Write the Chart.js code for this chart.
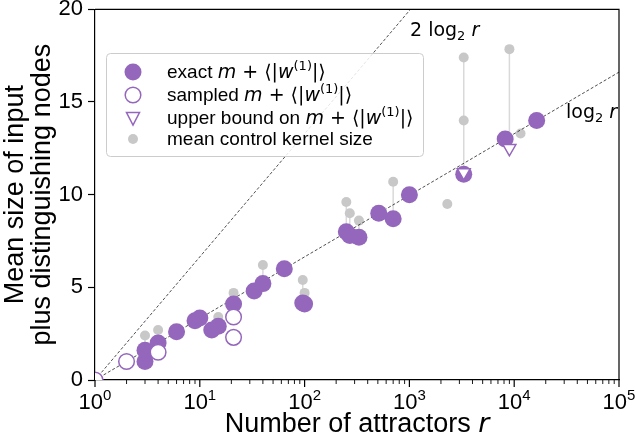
<!DOCTYPE html>
<html>
<head>
<meta charset="utf-8">
<script src="https://cdn.jsdelivr.net/npm/chart.js@4"></script>
<style>
  html, body { margin: 0; padding: 0; background: #fff; }
</style>
</head>
<body>
<canvas id="myChart" width="635" height="439"></canvas>
<script>
// exact m + <|w(1)|>  (filled circles); ctrl = mean control kernel size or null
const exactR    = [3, 3, 4, 6, 9, 10, 13, 15, 21, 33, 40, 64, 96, 100, 250, 270, 330, 510, 700, 1000, 3300, 8200, 16384];
const exactY    = [1.0, 1.6, 2.0, 2.6, 3.2, 3.35, 2.7, 2.9, 4.1, 4.8, 5.2, 6.0, 4.15, 4.1, 8.0, 7.8, 7.7, 9.0, 8.7, 10.0, 11.1, 13.0, 14.0];
const exactCtrl = [null, 2.4, 2.7, null, null, null, null, 3.4, 4.7, null, 6.2, null, 5.4, 4.7, 9.6, 9.0, 8.6, null, 10.7, null, 14.0, null, null];

// sampled m + <|w(1)|>  (open circles)
const sampledR = [1, 2, 4, 21, 21];
const sampledY = [0, 1.0, 1.5, 3.4, 2.3];

// upper bound on m + <|w(1)|>  (open triangles)
const boundR    = [3300, 9000];
const boundY    = [11.2, 12.5];
const boundCtrl = [17.4, 17.85];

// control kernel sizes without a visible partner mark
const otherCtrlR = [2300, 11500];
const otherCtrlY = [9.5, 13.3];

// reference lines
const refR = [1, 100000];
const purple = "#9467bd";
const grey = "#c8c8c8";
const fontFam = "'Liberation Sans', Arial, sans-serif";
const mathFam = "'DejaVu Sans', sans-serif";

const pts = (xs, ys) => xs.map((x, i) => ({ x: x, y: ys[i] }));

const ctrlPts = [];
const segPts = [];
function addCtrl(xs, ys, cs) {
  xs.forEach((x, i) => {
    if (cs[i] === null) return;
    ctrlPts.push({ x: x, y: cs[i] });
    segPts.push({ x: x, y: cs[i] }, { x: x, y: ys[i] }, { x: x, y: null });
  });
}
addCtrl(exactR, exactY, exactCtrl);
addCtrl(boundR, boundY, boundCtrl);
otherCtrlR.forEach((x, i) => ctrlPts.push({ x: x, y: otherCtrlY[i] }));

// rich text: parts = [[text, style]]
// style: "" text font, "m" math upright, "i" math italic, "sup"/"sub" small math
function partFont(s, size) {
  if (s === "i") return "oblique " + size + "px " + mathFam;
  if (s === "m") return size + "px " + mathFam;
  if (s === "sup" || s === "sub") return Math.round(size * 0.7) + "px " + mathFam;
  if (s === "tsup") return Math.round(size * 0.7) + "px " + fontFam;
  return size + "px " + fontFam;
}
function richWidth(ctx, parts, size) {
  let w = 0;
  parts.forEach(([t, s]) => {
    ctx.font = partFont(s, size);
    w += ctx.measureText(t).width;
  });
  return w;
}
function drawRich(ctx, x, y, parts, size) {
  ctx.textAlign = "left";
  ctx.textBaseline = "alphabetic";
  parts.forEach(([t, s]) => {
    ctx.font = partFont(s, size);
    let dy = 0;
    if (s === "sup" || s === "tsup") dy = -size * 0.42;
    if (s === "sub") dy = size * 0.22;
    ctx.fillText(t, x, y + dy);
    x += ctx.measureText(t).width;
  });
}

const extras = {
  id: "extras",
  afterDraw(chart) {
    const ctx = chart.ctx;
    const xs = chart.scales.x;
    const area = chart.chartArea;
    ctx.save();
    ctx.fillStyle = "#000";
    ctx.strokeStyle = "#000";

    // top and right spines
    ctx.lineWidth = 1.2;
    ctx.beginPath();
    ctx.moveTo(area.left, area.top);
    ctx.lineTo(area.right, area.top);
    ctx.lineTo(area.right, area.bottom);
    ctx.stroke();

    // x ticks (major + minor) and labels 10^k
    for (let k = 0; k <= 5; k++) {
      for (let m = 1; m <= 9; m++) {
        const v = m * Math.pow(10, k);
        if (v > 100000) break;
        const px = xs.getPixelForValue(v);
        ctx.lineWidth = m === 1 ? 1.2 : 0.9;
        ctx.beginPath();
        ctx.moveTo(px, area.bottom);
        ctx.lineTo(px, area.bottom + (m === 1 ? 7 : 4));
        ctx.stroke();
        if (m === 1) {
          const parts = [["10", ""], [String(k), "tsup"]];
          const w = richWidth(ctx, parts, 22);
          drawRich(ctx, px - w / 2, area.bottom + 29, parts, 22);
        }
      }
    }

    // x title
    const xt = [["Number of attractors ", ""], ["r", "i"]];
    const xtw = richWidth(ctx, xt, 27);
    drawRich(ctx, (area.left + area.right) / 2 - xtw / 2, 432, xt, 27);

    // reference line labels
    ctx.fillStyle = "#000";
    drawRich(ctx, 410, 36, [["2 log", "m"], ["2", "sub"], [" ", "m"], ["r", "i"]], 19);
    drawRich(ctx, 566, 118, [["log", "m"], ["2", "sub"], [" ", "m"], ["r", "i"]], 19);

    // legend
    const lx = 106, ly = 53, lw = 317, lh = 103;
    ctx.fillStyle = "rgba(255,255,255,0.85)";
    ctx.strokeStyle = "#cccccc";
    ctx.lineWidth = 1;
    ctx.beginPath();
    ctx.roundRect(lx + 0.5, ly + 0.5, lw, lh, 4);
    ctx.fill();
    ctx.stroke();

    const mx = 133;
    const rows = [72, 95, 118, 139];
    // filled circle
    ctx.fillStyle = purple;
    ctx.beginPath();
    ctx.arc(mx, rows[0], 8.5, 0, Math.PI * 2);
    ctx.fill();
    // open circle
    ctx.fillStyle = "#fff";
    ctx.strokeStyle = purple;
    ctx.lineWidth = 1.5;
    ctx.beginPath();
    ctx.arc(mx, rows[1], 7.8, 0, Math.PI * 2);
    ctx.fill();
    ctx.stroke();
    // down triangle
    ctx.beginPath();
    ctx.moveTo(mx - 6.5, rows[2] - 5.5);
    ctx.lineTo(mx + 6.5, rows[2] - 5.5);
    ctx.lineTo(mx, rows[2] + 7);
    ctx.closePath();
    ctx.fill();
    ctx.stroke();
    // grey dot
    ctx.fillStyle = grey;
    ctx.beginPath();
    ctx.arc(mx, rows[3], 5, 0, Math.PI * 2);
    ctx.fill();

    ctx.fillStyle = "#000";
    const tail = [["m", "i"], [" + \u27E8|", "m"], ["w", "i"], ["(1)", "sup"], ["|\u27E9", "m"]];
    const tx = 167, fs = 19;
    drawRich(ctx, tx, rows[0] + 6, [["exact ", ""]].concat(tail), fs);
    drawRich(ctx, tx, rows[1] + 6, [["sampled ", ""]].concat(tail), fs);
    drawRich(ctx, tx, rows[2] + 6, [["upper bound on ", ""]].concat(tail), fs);
    drawRich(ctx, tx, rows[3] + 6, [["mean control kernel size", ""]], fs);

    ctx.restore();
  }
};

const myChart = document.getElementById("myChart").getContext("2d");

const attractorChart = new Chart(myChart, {
  type: "scatter",
  data: {
    datasets: [
      {
        label: "links",
        data: segPts,
        showLine: true,
        spanGaps: false,
        borderColor: "#d9d9d9",
        borderWidth: 1.5,
        pointRadius: 0,
        order: 12,
      },
      {
        label: "mean control kernel size",
        data: ctrlPts,
        backgroundColor: grey,
        borderWidth: 0,
        pointRadius: 5,
        order: 11,
      },
      {
        label: "log2 r",
        data: refR.map((r) => ({ x: r, y: Math.log2(r) })),
        showLine: true,
        borderColor: "#222",
        borderWidth: 0.8,
        borderDash: [3, 2],
        pointRadius: 0,
        order: 10,
      },
      {
        label: "2 log2 r",
        data: refR.map((r) => ({ x: r, y: 2 * Math.log2(r) })),
        showLine: true,
        borderColor: "#222",
        borderWidth: 0.8,
        borderDash: [3, 2],
        pointRadius: 0,
        order: 10,
      },
      {
        label: "exact",
        data: pts(exactR, exactY),
        backgroundColor: purple,
        borderWidth: 0,
        pointRadius: 8.5,
        order: 3,
      },
      {
        label: "sampled",
        data: pts(sampledR, sampledY),
        backgroundColor: "#fff",
        borderColor: purple,
        borderWidth: 1.5,
        pointRadius: 7.8,
        order: 2,
      },
      {
        label: "upper bound",
        data: pts(boundR, boundY),
        pointStyle: "triangle",
        rotation: 180,
        backgroundColor: "#fff",
        borderColor: purple,
        borderWidth: 1.5,
        pointRadius: 7.5,
        order: 1,
      },
    ],
  },
  options: {
    responsive: false,
    animation: false,
    devicePixelRatio: 1,
    layout: { padding: { top: 8, right: 16, left: 0, bottom: 0 } },
    plugins: { legend: { display: false }, tooltip: { enabled: false } },
    scales: {
      x: {
        type: "logarithmic",
        min: 1,
        max: 100000,
        ticks: { display: false },
        grid: { display: false },
        border: { display: true, color: "#000", width: 1.2 },
        afterFit: (s) => { s.height = 59; s.paddingLeft = 0; s.paddingRight = 0; },
      },
      y: {
        min: 0,
        max: 20,
        ticks: {
          stepSize: 5,
          color: "#000",
          padding: 5,
          font: { family: fontFam, size: 22 },
        },
        grid: { drawOnChartArea: false, drawTicks: true, tickLength: 7, tickColor: "#000", tickWidth: 1.2 },
        border: { display: true, color: "#000", width: 1.2 },
        title: {
          display: true,
          text: ["Mean size of input", "plus distinguishing nodes"],
          color: "#000",
          font: { family: fontFam, size: 27, lineHeight: 1.0 },
          padding: { top: 2, bottom: 0 },
        },
        afterFit: (s) => { s.width = 95; s.paddingTop = 0; s.paddingBottom = 0; },
      },
    },
  },
  plugins: [extras],
});
</script>
</body>
</html>
